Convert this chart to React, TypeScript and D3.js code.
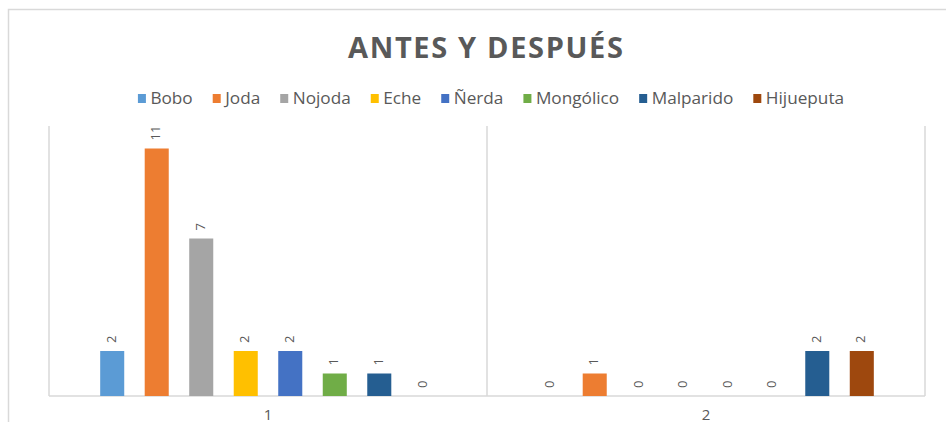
import React from "react";
import * as d3 from "d3";

const categories = ["1", "2"];
const seriesNames = ["Bobo", "Joda", "Nojoda", "Eche", "Ñerda", "Mongólico", "Malparido", "Hijueputa"];
const seriesColors = ["#5B9BD5", "#ED7D31", "#A5A5A5", "#FFC000", "#4472C4", "#70AD47", "#255E91", "#9E480E"];
const valuesCat1 = [2, 11, 7, 2, 2, 1, 1, 0];
const valuesCat2 = [0, 1, 0, 0, 0, 0, 2, 2];
const categoryValues = [valuesCat1, valuesCat2];
const title = "ANTES Y DESPUÉS";

const W = 946;
const H = 422;
const FONT = "'Open Sans', 'DejaVu Sans', sans-serif";
const TEXT = "#595959";
const GRID = "#d9d9d9";

function measure(text: string, font: string): number {
  if (typeof document === "undefined") return text.length * 8;
  const c = document.createElement("canvas");
  const ctx = c.getContext("2d");
  if (!ctx) return text.length * 8;
  ctx.font = font;
  return ctx.measureText(text).width;
}

export default function App() {
  const plot = { left: 49, right: 925, top: 126, bottom: 396 };
  const x0 = d3.scaleBand<string>().domain(categories).range([plot.left, plot.right]).padding(0);
  const x1 = d3
    .scaleBand<string>()
    .domain(seriesNames)
    .range([0, x0.bandwidth()])
    .paddingInner(0.46)
    .paddingOuter(1.15);
  const y = d3.scaleLinear().domain([0, 12]).range([plot.bottom, plot.top]);

  const legendFontSize = 17.2;
  const legendFont = `${legendFontSize}px 'Open Sans'`;
  const swatch = 8;
  const swGap = 4.5;
  const itemGap = 20;
  const widths = seriesNames.map((n) => measure(n, legendFont));
  const itemW = widths.map((w) => swatch + swGap + w);
  const total = d3.sum(itemW) + itemGap * (seriesNames.length - 1);
  const legendCenter = 491;
  let cursor = legendCenter - total / 2;
  const legendItems = seriesNames.map((n, i) => {
    const x = cursor;
    cursor += itemW[i] + itemGap;
    return { n, x, color: seriesColors[i] };
  });
  const legendY = 99;

  const gridXs = [plot.left, ...categories.map((c) => (x0(c) as number) + x0.bandwidth())];

  return (
    <svg
      width={W}
      height={H}
      style={{ position: "absolute", left: 0, top: 0, background: "#fff" }}
      fontFamily={FONT}
    >
      <rect x={0} y={0} width={W} height={H} fill="#fff" />
      <rect x={8.5} y={9.5} width={980} height={600} fill="none" stroke={GRID} strokeWidth={1.5} />

      <text
        x={485.5}
        y={58}
        textAnchor="middle"
        fontSize={29}
        fontWeight={700}
        fill={TEXT}
        textLength={275}
        lengthAdjust="spacing"
      >
        {title}
      </text>

      {legendItems.map((it) => (
        <g key={it.n}>
          <rect x={it.x} y={legendY - 5} width={swatch} height={swatch + 1} fill={it.color} />
          <text
            x={it.x + swatch + swGap}
            y={legendY}
            dominantBaseline="middle"
            fontSize={legendFontSize}
            fill={TEXT}
          >
            {it.n}
          </text>
        </g>
      ))}

      {gridXs.map((gx, i) => (
        <line key={i} x1={gx} x2={gx} y1={plot.top} y2={plot.bottom} stroke={GRID} strokeWidth={1.5} />
      ))}
      <line x1={plot.left} x2={plot.right} y1={plot.bottom} y2={plot.bottom} stroke={GRID} strokeWidth={1.5} />

      {categories.map((c, ci) => (
        <g key={c} transform={`translate(${x0(c)},0)`}>
          {seriesNames.map((s, si) => {
            const v = categoryValues[ci][si];
            const bx = x1(s) as number;
            const bw = x1.bandwidth();
            const top = y(v);
            const cx = bx + bw / 2;
            const ly = top - 8;
            return (
              <g key={s}>
                {v > 0 && (
                  <rect x={bx} y={top} width={bw} height={plot.bottom - top} fill={seriesColors[si]} />
                )}
                <text
                  transform={`translate(${cx},${ly}) rotate(-90)`}
                  textAnchor="start"
                  dominantBaseline="middle"
                  fontSize={13}
                  fill={TEXT}
                >
                  {v}
                </text>
              </g>
            );
          })}
          <text
            x={x0.bandwidth() / 2}
            y={419.5}
            textAnchor="middle"
            fontSize={15}
            fill={TEXT}
          >
            {c}
          </text>
        </g>
      ))}
    </svg>
  );
}
